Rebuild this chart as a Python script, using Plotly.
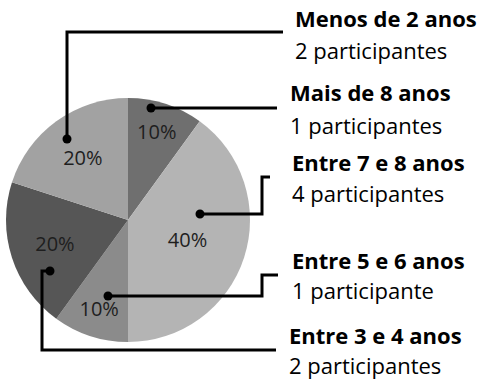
import plotly.graph_objects as go

# Data (clockwise from 12 o'clock)
categories = ["Mais de 8 anos", "Entre 7 e 8 anos", "Entre 5 e 6 anos", "Entre 3 e 4 anos", "Menos de 2 anos"]
participants = [1, 4, 1, 2, 2]
count_labels = ["1 participantes", "4 participantes", "1 participante", "2 participantes", "2 participantes"]
slice_colors = ["#6f6f6f", "#b4b4b4", "#8b8b8b", "#565656", "#a2a2a2"]

W, H = 502, 381
FONT = "Open Sans"

fig = go.Figure()

fig.add_trace(go.Pie(
    labels=categories, values=participants, sort=False, direction="clockwise", rotation=0,
    marker=dict(colors=slice_colors, line=dict(width=0)),
    textinfo="percent", texttemplate="%{percent:.0%}", textposition="inside",
    insidetextorientation="horizontal",
    textfont=dict(family=FONT, size=20, color="#1e1e1e"),
    domain=dict(x=[6 / W, 250 / W], y=[(161 - 122) / H, (161 + 122) / H]),
    showlegend=False, hoverinfo="label+value+percent",
))


def px(x, y):
    return x / W, 1 - y / H


# Callout connectors (pixel coords), same order as categories
connectors = [
    ([151, 277], [108, 108]),
    ([200, 262, 262, 270], [214, 214, 177, 177]),
    ([108, 262, 262, 278], [296, 296, 275, 275]),
    ([50, 42, 42, 276], [271, 271, 350, 350]),
    ([67, 67, 283], [139, 32, 32]),
]
for xs, ys in connectors:
    pts = [px(x, y) for x, y in zip(xs, ys)]
    path = "M " + " L ".join(f"{a:.5f},{b:.5f}" for a, b in pts)
    fig.add_shape(type="path", path=path, xref="paper", yref="paper", layer="above",
                  line=dict(color="black", width=3))
    cx, cy = pts[0]
    rx, ry = 4.5 / W, 4.5 / H
    fig.add_shape(type="circle", xref="paper", yref="paper", layer="above",
                  x0=cx - rx, x1=cx + rx, y0=cy - ry, y1=cy + ry,
                  fillcolor="black", line=dict(width=0))

# Label positions: (x, title center y, count center y)
label_pos = [(288, 92, 125), (290, 162, 193), (290, 260, 290), (287, 335, 365), (293, 18, 50)]
for cat, cnt, (lx, ty, cy) in zip(categories, count_labels, label_pos):
    ax, ay = px(lx, ty)
    fig.add_annotation(x=ax, y=ay, xref="paper", yref="paper", text=f"<b>{cat}</b>", showarrow=False,
                       xanchor="left", yanchor="middle", font=dict(family=FONT, size=22, color="black"))
    ax, ay = px(lx, cy)
    fig.add_annotation(x=ax, y=ay, xref="paper", yref="paper", text=cnt, showarrow=False,
                       xanchor="left", yanchor="middle", font=dict(family=FONT, size=22, color="black"))

fig.update_layout(
    width=W, height=H, margin=dict(l=0, r=0, t=0, b=0),
    paper_bgcolor="white", plot_bgcolor="rgba(0,0,0,0)",
)

fig.write_html("out.html", config={"displayModeBar": False},
               post_script="document.body.style.margin='0';document.body.style.padding='0';")
